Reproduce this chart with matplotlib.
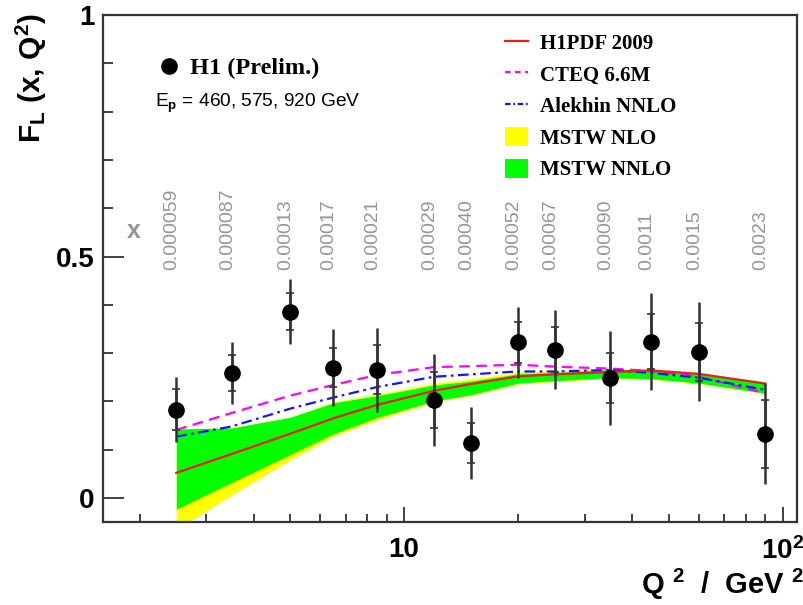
import matplotlib
matplotlib.use("Agg")
import matplotlib.pyplot as plt
from matplotlib.lines import Line2D
from matplotlib.patches import Patch

plt.rcParams['font.family'] = ['Liberation Sans', 'DejaVu Sans']
plt.rcParams['font.weight'] = 'bold'
plt.rcParams['mathtext.fontset'] = 'custom'
plt.rcParams['mathtext.rm'] = 'Liberation Sans:bold'
plt.rcParams['mathtext.bf'] = 'Liberation Sans:bold'
plt.rcParams['mathtext.default'] = 'bf'

# H1 preliminary F_L measurement
q2 = [2.5, 3.5, 5, 6.5, 8.5, 12, 15, 20, 25, 35, 45, 60, 90]
fl = [0.183, 0.259, 0.386, 0.270, 0.266, 0.203, 0.114, 0.322, 0.307, 0.249, 0.324, 0.303, 0.133]
err_stat = [0.043, 0.037, 0.038, 0.041, 0.050, 0.058, 0.042, 0.043, 0.047, 0.052, 0.056, 0.060, 0.070]
err_tot = [0.068, 0.064, 0.068, 0.079, 0.087, 0.095, 0.075, 0.073, 0.082, 0.097, 0.100, 0.102, 0.105]
x_bj = ["0.000059", "0.000087", "0.00013", "0.00017", "0.00021", "0.00029", "0.00040",
        "0.00052", "0.00067", "0.00090", "0.0011", "0.0015", "0.0023"]

# theory predictions evaluated at the data Q2 points
h1pdf = [0.052, 0.091, 0.133, 0.165, 0.193, 0.222, 0.236, 0.252, 0.256, 0.261, 0.264, 0.257, 0.237]
cteq = [0.141, 0.176, 0.212, 0.234, 0.255, 0.271, 0.273, 0.276, 0.272, 0.268, 0.263, 0.251, 0.217]
alekhin = [0.127, 0.148, 0.185, 0.208, 0.230, 0.251, 0.256, 0.262, 0.262, 0.265, 0.259, 0.249, 0.224]
mstw_nlo_lo = [-0.066, 0.006, 0.079, 0.128, 0.162, 0.199, 0.212, 0.236, 0.241, 0.248, 0.246, 0.237, 0.216]
mstw_nlo_hi = [0.143, 0.145, 0.167, 0.199, 0.215, 0.238, 0.246, 0.261, 0.263, 0.268, 0.267, 0.260, 0.240]
mstw_nnlo_lo = [-0.023, 0.032, 0.090, 0.133, 0.167, 0.201, 0.214, 0.238, 0.243, 0.249, 0.247, 0.238, 0.217]
mstw_nnlo_hi = [0.143, 0.145, 0.167, 0.197, 0.212, 0.234, 0.242, 0.257, 0.260, 0.266, 0.266, 0.258, 0.238]

fig = plt.figure(figsize=(8.04, 6.05), dpi=100)
ax = fig.add_axes([0.128, 0.137, 0.863, 0.838])

ax.fill_between(q2, mstw_nlo_lo, mstw_nlo_hi, color="#ffff00", lw=0, zorder=1)
ax.fill_between(q2, mstw_nnlo_lo, mstw_nnlo_hi, color="#00ff00", lw=0, zorder=2)
ax.plot(q2, h1pdf, color="#ee1c1c", lw=1.6, zorder=5)
ax.plot(q2, cteq, color="#ff00ff", lw=1.6, dashes=(4.8, 2.9), zorder=4)
ax.plot(q2, alekhin, color="#1414ff", lw=1.6, dashes=(4.8, 2.0, 1.2, 2.0), zorder=4)

# total errors (no caps) + stat errors (small caps)
ax.errorbar(q2, fl, yerr=err_tot, fmt="none", ecolor="#333333", elinewidth=1.8, zorder=6)
ax.errorbar(q2, fl, yerr=err_stat, fmt="none", ecolor="#333333", elinewidth=1.8,
            capsize=3, capthick=1.2, zorder=6)
ax.plot(q2, fl, "o", color="black", ms=11, zorder=7)

for q, lab in zip(q2, x_bj):
    ax.annotate(lab, xy=(q, 0.472), xytext=(-3, 0), textcoords="offset points",
                rotation=90, ha="center", va="bottom", fontsize=14,
                fontweight="normal", color="#959595")
ax.text(1.93, 0.552, "x", ha="center", va="center", fontsize=18, color="#959595")

ax.set_xscale("log")
ax.set_xlim(1.6, 109)
ax.set_ylim(-0.05, 1.0)
ax.set_xticks([10, 100], labels=["10", "10$^{2}$"])
ax.set_xticks([2, 3, 4, 5, 6, 7, 8, 9, 20, 30, 40, 50, 60, 70, 80, 90], minor=True)
ax.set_xticklabels([], minor=True)
ax.set_yticks([0, 0.5, 1], labels=["0", "0.5", "1"])
ax.set_yticks([0.1, 0.2, 0.3, 0.4, 0.6, 0.7, 0.8, 0.9], minor=True)
ax.tick_params(axis="x", which="major", direction="in", length=11, width=1.3,
               labelsize=20, pad=11, color="#333333")
ax.tick_params(axis="x", which="minor", direction="in", length=6, width=1.3, color="#333333")
ax.tick_params(axis="y", which="major", direction="in", length=15, width=1.3,
               labelsize=20, pad=6, color="#333333")
ax.tick_params(axis="y", which="minor", direction="in", length=7.5, width=1.3, color="#333333")
for sp in ax.spines.values():
    sp.set_linewidth(1.6)
    sp.set_color("#333333")

fig.text(31 / 804, 1 - 13 / 605, "F$_{L}$ (x, Q$^{2}$)", rotation=90,
         ha="center", va="top", fontsize=21.5)
fig.text(804 / 804, 1 - 584 / 605, "Q $^{2}$  /  GeV $^{2}$", ha="right", va="center",
         fontsize=21)

# H1 label block
ax.plot([2.39], [0.895], "o", color="black", ms=11)
ax.text(2.71, 0.878, "H1 (Prelim.)", ha="left", va="baseline", fontsize=17.5,
        family="Liberation Serif")
ax.text(2.19, 0.809, "E$_{\\rm p}$ = 460, 575, 920 GeV", ha="left", va="baseline",
        fontsize=13.8, fontweight="normal")

handles = [
    Line2D([], [], color="#ee1c1c", lw=1.6),
    Line2D([], [], color="#ff00ff", lw=1.6, dashes=(2.5, 2.0)),
    Line2D([], [], color="#1414ff", lw=1.6, dashes=(2.5, 1.2, 0.8, 1.2)),
    Patch(facecolor="#ffff00", edgecolor="none"),
    Patch(facecolor="#00ff00", edgecolor="none"),
]
labels = ["H1PDF 2009", "CTEQ 6.6M", "Alekhin NNLO", "MSTW NLO", "MSTW NNLO"]
ax.legend(handles, labels, loc="upper left", bbox_to_anchor=(0.579, 0.966),
          frameon=False, borderpad=0, borderaxespad=0, handlelength=1.1,
          handleheight=1.05, handletextpad=0.58, labelspacing=0.47,
          prop=dict(family="Liberation Serif", weight="bold", size=15))

fig.savefig("out.png", dpi=100)
